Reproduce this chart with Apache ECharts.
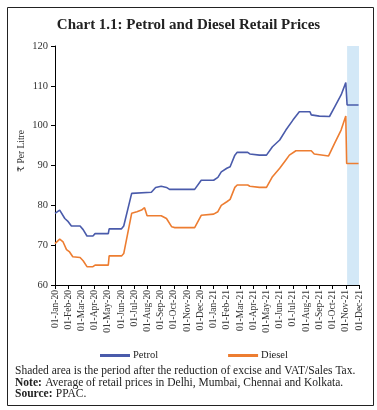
<!DOCTYPE html>
<html><head><meta charset="utf-8">
<script src="https://cdn.jsdelivr.net/npm/echarts@6/dist/echarts.min.js"></script>
<style>html,body{margin:0;padding:0;background:#fff}#c{width:377px;height:410px}</style>
</head><body><div id="c"></div>
<script>
const tickLabels = ['01-Jan-20','01-Feb-20','01-Mar-20','01-Apr-20','01-May-20','01-Jun-20','01-Jul-20','01-Aug-20','01-Sep-20','01-Oct-20','01-Nov-20','01-Dec-20','01-Jan-21','01-Feb-21','01-Mar-21','01-Apr-21','01-May-21','01-Jun-21','01-Jul-21','01-Aug-21','01-Sep-21','01-Oct-21','01-Nov-21','01-Dec-21'];
const petrolDates = ['2020-01-01','2020-01-12','2020-01-24','2020-02-01','2020-02-08','2020-02-27','2020-03-05','2020-03-14','2020-03-28','2020-04-02','2020-05-02','2020-05-04','2020-06-02','2020-06-07','2020-06-25','2020-06-27','2020-08-10','2020-08-20','2020-09-02','2020-09-14','2020-09-21','2020-11-18','2020-12-03','2021-01-01','2021-01-11','2021-01-19','2021-02-01','2021-02-08','2021-02-18','2021-02-23','2021-03-19','2021-03-24','2021-04-15','2021-05-01','2021-05-15','2021-06-01','2021-06-15','2021-07-01','2021-07-16','2021-08-10','2021-08-13','2021-09-01','2021-09-24','2021-10-06','2021-10-21','2021-11-01','2021-11-04','2021-11-30'];
const petrolValues = [78.0,78.8,76.7,75.9,74.8,74.8,73.9,72.3,72.3,72.9,72.9,74.1,74.1,74.8,83.0,83.3,83.3,84.5,84.8,84.5,84.0,84.0,86.3,86.3,87.0,88.4,89.3,89.7,92.6,93.3,93.3,92.9,92.6,92.6,94.7,96.4,98.9,101.4,103.5,103.5,102.7,102.4,102.3,104.7,107.7,110.8,105.2,105.2];
const dieselDates = ['2020-01-01','2020-01-12','2020-01-20','2020-01-28','2020-02-04','2020-02-11','2020-02-27','2020-03-05','2020-03-14','2020-03-28','2020-04-02','2020-05-02','2020-05-04','2020-06-02','2020-06-07','2020-06-25','2020-07-07','2020-07-18','2020-07-25','2020-07-29','2020-07-31','2020-09-02','2020-09-14','2020-09-26','2020-10-03','2020-11-18','2020-12-03','2021-01-01','2021-01-11','2021-01-19','2021-02-01','2021-02-08','2021-02-18','2021-02-23','2021-03-19','2021-03-24','2021-04-15','2021-05-01','2021-05-15','2021-06-01','2021-06-15','2021-06-23','2021-07-08','2021-08-13','2021-08-20','2021-09-22','2021-10-06','2021-10-21','2021-11-01','2021-11-03','2021-11-30'];
const dieselValues = [70.4,71.5,70.8,68.9,68.3,67.1,66.9,66.1,64.6,64.6,65.0,65.0,67.3,67.3,67.9,78.0,78.4,78.8,79.4,79.5,77.4,77.4,76.7,74.6,74.4,74.4,77.5,77.8,78.4,80.0,80.9,81.5,84.5,85.1,85.1,84.8,84.5,84.5,87.2,89.3,91.4,92.6,93.7,93.7,92.9,92.4,95.6,98.9,102.4,90.5,90.5];
const shadeStart = '2021-11-04';
const shadeEnd = '2021-12-01';

function toMonth(s){
  const [y,m,d] = s.split('-').map(Number);
  const dim = new Date(y, m, 0).getDate();
  return (y-2020)*12 + (m-1) + (d-1)/dim;
}
const serif = '"Liberation Serif", "DejaVu Serif", serif';
const chart = echarts.init(document.getElementById('c'), null, {renderer:'canvas'});
const rich = {b:{fontWeight:'bold', fontFamily:serif, fontSize:11.5, fill:'#222'}, n:{fontFamily:serif, fontSize:11.5, fill:'#222'}};
chart.setOption({
  animation:false,
  title:{text:'Chart 1.1: Petrol and Diesel Retail Prices', left:'center', top:13,
    textStyle:{fontFamily:serif, fontSize:15, fontWeight:'bold', color:'#222'}},
  grid:{left:55, right:18, top:46, bottom:125},
  legend:{top:345, left:95, itemGap:70, itemWidth:30, itemHeight:3, icon:'rect',
    textStyle:{fontFamily:serif, fontSize:10.5, color:'#222', padding:[0,0,4,-2]},
    data:['Petrol','Diesel']},
  xAxis:{type:'value', min:0, max:23, interval:1,
    axisLine:{lineStyle:{color:'#000', width:1}},
    axisTick:{show:true, length:4, lineStyle:{color:'#000'}},
    splitLine:{show:false},
    axisLabel:{rotate:90, fontFamily:serif, fontSize:9.5, color:'#333', margin:5,
      formatter:v=>tickLabels[Math.round(v)]||''}},
  yAxis:{type:'value', min:60, max:120, interval:10,
    axisLine:{show:true, lineStyle:{color:'#000', width:1}},
    axisTick:{show:true, length:4, lineStyle:{color:'#000'}},
    splitLine:{show:false},
    axisLabel:{fontFamily:serif, fontSize:10.5, color:'#333', margin:7}},
  series:[
    {name:'shade', type:'line', data:[], clip:false, silent:true,
      markArea:{silent:true, itemStyle:{color:'#d3e8f7'},
        data:[[{xAxis:toMonth(shadeStart), yAxis:60},{xAxis:toMonth(shadeEnd), yAxis:122}]]}},
    {name:'Petrol', type:'line', showSymbol:false, symbol:'none',
      lineStyle:{color:'#4a5bab', width:1.6}, itemStyle:{color:'#4a5bab'},
      data:petrolDates.map((d,i)=>[toMonth(d), petrolValues[i]])},
    {name:'Diesel', type:'line', showSymbol:false, symbol:'none',
      lineStyle:{color:'#ed7d31', width:1.6}, itemStyle:{color:'#ed7d31'},
      data:dieselDates.map((d,i)=>[toMonth(d), dieselValues[i]])}
  ],
  graphic:[
    {type:'rect', left:5, top:5, shape:{width:366, height:398}, style:{fill:null, stroke:'#222', lineWidth:1}, silent:true},
    {type:'text', x:21, y:151, rotation:Math.PI/2, style:{text:'₹ Per Litre', font:'9.5px '+serif, fill:'#333', align:'center', verticalAlign:'middle'}},
    {type:'text', left:15, top:365, style:{text:'Shaded area is the period after the reduction of excise and VAT/Sales Tax.', font:'11.5px '+serif, fill:'#222'}},
    {type:'text', left:15, top:377, style:{rich:rich, text:'{b|Note:} {n|Average of retail prices in Delhi, Mumbai, Chennai and Kolkata.}'}},
    {type:'text', left:15, top:388, style:{rich:rich, text:'{b|Source:} {n|PPAC.}'}}
  ]
});
</script></body></html>
